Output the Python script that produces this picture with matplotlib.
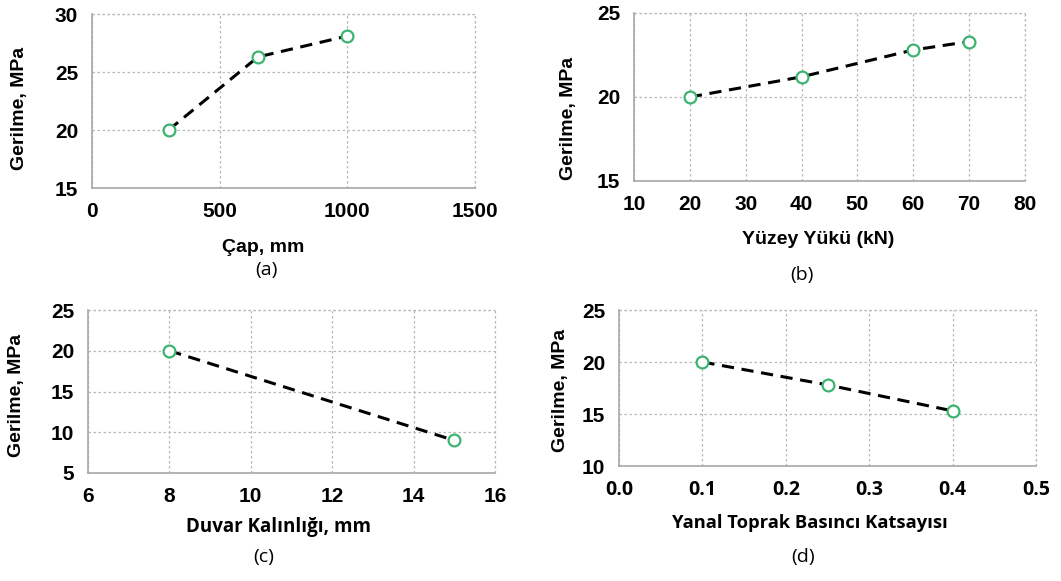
import matplotlib
matplotlib.use("Agg")
import matplotlib.pyplot as plt

# veri
cap_mm = [300, 650, 1000]
cap_gerilme = [20.0, 26.3, 28.1]

yuk_kn = [20, 40, 60, 70]
yuk_gerilme = [20.0, 21.2, 22.8, 23.3]

kalinlik_mm = [8, 15]
kalinlik_gerilme = [20.0, 9.0]

katsayi = [0.1, 0.25, 0.4]
katsayi_gerilme = [20.0, 17.8, 15.3]

W, H = 1061, 581
fig = plt.figure(figsize=(W / 100, H / 100), dpi=100)

GRID = "#b8b8b8"

def px(x, y):
    return x / W, 1 - y / H

def make_ax(l, t, r, b):
    ax = fig.add_axes([l / W, 1 - b / H, (r - l) / W, (b - t) / H])
    return ax

def style(ax, xlim, xticks, ylim, yticks, xfont="Liberation Sans", xsize=15):
    ax.set_xlim(*xlim)
    ax.set_ylim(*ylim)
    ax.set_xticks(xticks)
    ax.set_yticks(yticks)
    ax.grid(True, color=GRID, linestyle=(0, (2, 2)), linewidth=0.9)
    ax.set_axisbelow(True)
    for s in ["top", "right"]:
        ax.spines[s].set_visible(False)
    for s in ["left", "bottom"]:
        ax.spines[s].set_color("#a8a8a8")
        ax.spines[s].set_linewidth(1.2)
    ax.tick_params(axis="y", length=0, pad=10, labelsize=15)
    ax.tick_params(axis="x", length=0, pad=10, labelsize=xsize)
    for lab in ax.get_yticklabels():
        lab.set_fontweight("bold")
        lab.set_family("Liberation Sans")
    for lab in ax.get_xticklabels():
        lab.set_fontweight("bold")
        lab.set_family(xfont)
    # grid lines at right/top edges
    ax.axvline(xlim[1], color=GRID, linestyle=(0, (2, 2)), linewidth=0.9, clip_on=False)
    ax.axhline(ylim[1], color=GRID, linestyle=(0, (2, 2)), linewidth=0.9, clip_on=False)

def plot_series(ax, x, y):
    ax.plot(x, y, color="black", linestyle=(0, (4, 2.5)), linewidth=2.2, zorder=3)
    ax.plot(x, y, linestyle="none", marker="o", markersize=8.5, markerfacecolor="white",
            markeredgecolor="#3cb371", markeredgewidth=1.6, zorder=4)

def label(x, y, s, rot=0, size=14, weight="bold", family="Liberation Sans"):
    fig.text(*px(x, y), s, ha="center", va="center", rotation=rot,
             fontsize=size, fontweight=weight, family=family)

# (a)
ax1 = make_ax(92, 14, 475, 188)
plot_series(ax1, cap_mm, cap_gerilme)
style(ax1, (0, 1500), [0, 500, 1000, 1500], (15, 30), [15, 20, 25, 30])
label(20, 108, "Gerilme, MPa", rot=90)
label(263, 248, "Çap, mm", size=14)
label(266, 270, "(a)", size=14, weight="normal", family="Open Sans")

# (b)
ax2 = make_ax(634, 13, 1025, 181)
plot_series(ax2, yuk_kn, yuk_gerilme)
style(ax2, (10, 80), [10, 20, 30, 40, 50, 60, 70, 80], (15, 25), [15, 20, 25])
label(569, 118, "Gerilme, MPa", rot=90)
label(818, 240, "Yüzey Yükü (kN)", size=14)
label(802, 275, "(b)", size=14, weight="normal", family="Open Sans")

# (c)
ax3 = make_ax(88, 310, 495, 473)
plot_series(ax3, kalinlik_mm, kalinlik_gerilme)
style(ax3, (6, 16), [6, 8, 10, 12, 14, 16], (5, 25), [5, 10, 15, 20, 25])
label(17, 395, "Gerilme, MPa", rot=90)
label(278, 527, "Duvar Kalınlığı, mm", size=13.5, family="Open Sans")
label(264, 557, "(c)", size=14, weight="normal", family="Open Sans")

# (d)
ax4 = make_ax(619, 310, 1036, 466)
plot_series(ax4, katsayi, katsayi_gerilme)
style(ax4, (0.0, 0.5), [0.0, 0.1, 0.2, 0.3, 0.4, 0.5], (10, 25), [10, 15, 20, 25],
      xfont="Open Sans", xsize=14)
ax4.set_xticklabels(["0.0", "0.1", "0.2", "0.3", "0.4", "0.5"], fontweight="bold",
                    family="Open Sans", fontsize=14)
label(560, 390, "Gerilme, MPa", rot=90)
label(810, 523, "Yanal Toprak Basıncı Katsayısı", size=13.2, family="Open Sans")
label(803, 557, "(d)", size=14, weight="normal", family="Open Sans")

fig.savefig("out.png", dpi=100)
